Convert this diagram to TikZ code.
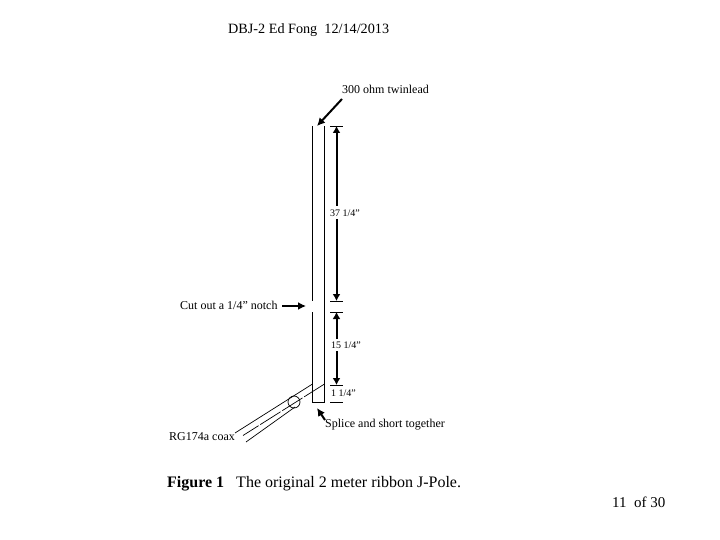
\documentclass[tikz,border=0pt]{standalone}
\usepackage{fontspec}
\setmainfont{Liberation Serif}
\usetikzlibrary{arrows.meta}
\tikzset{
 lbl/.style={inner sep=0pt,anchor=west,font=\fontsize{12}{14}\selectfont},
 small/.style={inner sep=0pt,anchor=west,font=\fontsize{10}{12}\selectfont},
 captext/.style={inner sep=0pt,anchor=west,font=\fontsize{16}{18}\selectfont},
 thinline/.style={line width=0.9pt,black},
 coaxline/.style={line width=0.7pt,black},
 dim/.style={line width=2pt,-{Latex[length=7pt,width=8pt]}},
 arr/.style={line width=2pt,-{Latex[length=8pt,width=8pt]}}
}
\begin{document}
\begin{tikzpicture}[x=1pt,y=-1pt]
\useasboundingbox (0,0) rectangle (720,540);
\fill[white] (0,0) rectangle (720,540);
\node[lbl,font=\fontsize{14.2}{16}\selectfont] (title) at (228,30) {DBJ-2 Ed Fong\ \ 12/14/2013};
\node[lbl] (twin) at (342,89) {300 ohm twinlead};
\node[small] (d37) at (330,213) {37 1/4”};
\node[small] (d15) at (331,345) {15 1/4”};
\node[small] (d1) at (331,393.5) {1 1/4”};
\node[lbl] (cut) at (180,305) {Cut out a 1/4” notch};
\node[lbl] (rg) at (169,437) {RG174a coax};
\node[lbl] (spl) at (325,425) {Splice and short together};
\node[captext] (fig) at (167,483.5) {\textbf{Figure 1}\ \ \ The original 2 meter ribbon J-Pole.};
\node[captext,font=\fontsize{15}{18}\selectfont] (pg) at (612,502) {11\ \ of 30};
% ribbon
\coordinate (lt) at (312.5,126); \coordinate (ln1) at (312.5,301);
\coordinate (ln2) at (312.5,312); \coordinate (lb) at (312.5,402.5);
\coordinate (rt) at (324.5,126); \coordinate (rb) at (324.5,402.5);
\draw[thinline] (lt) -- (ln1);
\draw[thinline] (ln2) -- (lb) -- (rb) -- (rt);
% ticks
\foreach \nm/\yy in {a/126,b/301,c/312,d/385,e/402}{
 \coordinate (\nm1) at (330,\yy); \coordinate (\nm2) at (343,\yy);
 \draw[thinline] (\nm1) -- (\nm2);
 \coordinate (\nm) at (336.5,\yy);
}
% dimension arrows
\coordinate (a0) at (336.5,206); \coordinate (b0) at (336.5,219);
\coordinate (c0) at (336.5,339); \coordinate (d0) at (336.5,351);
\draw[dim] (a0) -- (a);
\draw[dim] (b0) -- (b);
\draw[dim] (c0) -- (c);
\draw[dim] (d0) -- (d);
% pointers
\coordinate (tw0) at (342,99); \coordinate (tw1) at (317,126);
\draw[arr] (tw0) -- (tw1);
\coordinate (cu0) at (282,306); \coordinate (cu1) at (306,306);
\draw[arr] (cu0) -- (cu1);
\coordinate (sp0) at (325,420); \coordinate (sp1) at (317,408);
\draw[arr] (sp0) -- (sp1);
% coax
\coordinate (c1s) at (312.5,384); \coordinate (c1e) at (235,433);
\coordinate (c2s) at (324.5,384); \coordinate (c2e) at (243,435.5);
\coordinate (c3s) at (295,407); \coordinate (c3e) at (246,442);
\draw[coaxline] (c1s) -- (c1e);
\draw[coaxline,dash pattern=on 24pt off 2pt on 24pt off 2pt] (c2s) -- (c2e);
\draw[coaxline] (c3s) -- (c3e);
\node[draw,coaxline,circle,minimum size=12pt,inner sep=0pt] (ferr) at (294,402) {};
\end{tikzpicture}
\end{document}
